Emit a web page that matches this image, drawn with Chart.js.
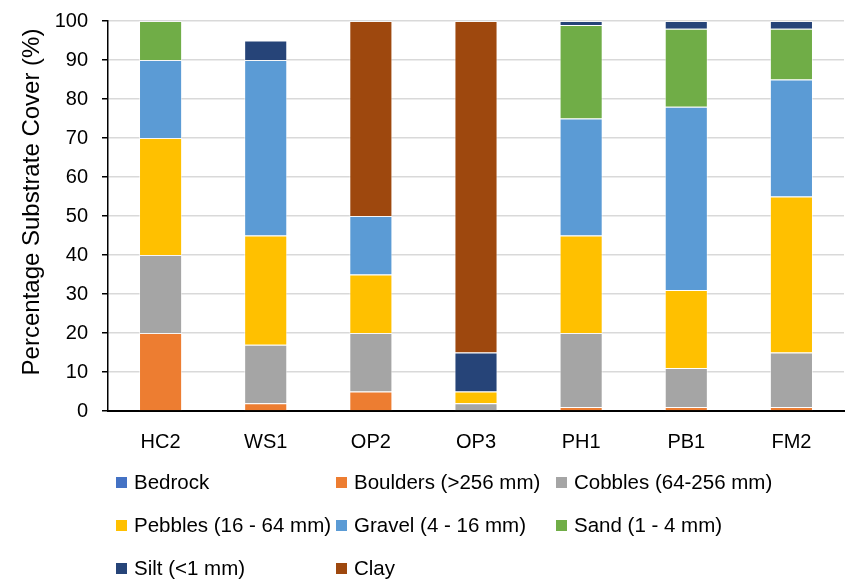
<!DOCTYPE html>
<html>
<head>
<meta charset="utf-8">
<script src="https://cdn.jsdelivr.net/npm/chart.js@4"></script>
<style>
  body { margin: 0; background: #fff; font-family: "Liberation Sans", Arial, sans-serif; overflow: hidden; }
  #wrap { position: relative; width: 855px; height: 582px; overflow: hidden; }
  #chartBox { position: absolute; left: 0; top: -5px; width: 855px; height: 465px; }
  #legend { position: absolute; left: 0; top: 0; width: 855px; height: 582px; pointer-events: none; }
  .item { position: absolute; display: flex; align-items: center; font-size: 20.5px; color: #000; white-space: nowrap; }
  .box { width: 11px; height: 11px; margin-right: 7px; }
</style>
</head>
<body>
<div id="wrap">
  <div id="chartBox"><canvas id="myChart"></canvas></div>
  <div id="legend"></div>
</div>
<script>
// sites
const sites = ["HC2", "WS1", "OP2", "OP3", "PH1", "PB1", "FM2"];

// substrate cover (%) per site
const bedrock  = [0, 0, 0, 0, 0, 0, 0];
const boulders = [20, 2, 5, 0, 1, 1, 1];
const cobbles  = [20, 15, 15, 2, 19, 10, 14];
const pebbles  = [30, 28, 15, 3, 25, 20, 40];
const gravel   = [20, 45, 15, 0, 30, 47, 30];
const sand     = [10, 0, 0, 0, 24, 20, 13];
const silt     = [0, 5, 0, 10, 1, 2, 2];
const clay     = [0, 0, 50, 85, 0, 0, 0];

const yTicks = [0, 10, 20, 30, 40, 50, 60, 70, 80, 90, 100];
const yTitle = "Percentage Substrate Cover (%)";

const series = [
  { label: "Bedrock", data: bedrock, color: "#4472C4" },
  { label: "Boulders (>256 mm)", data: boulders, color: "#ED7D31" },
  { label: "Cobbles (64-256 mm)", data: cobbles, color: "#A5A5A5" },
  { label: "Pebbles (16 - 64 mm)", data: pebbles, color: "#FFC000" },
  { label: "Gravel (4 - 16 mm)", data: gravel, color: "#5B9BD5" },
  { label: "Sand (1 - 4 mm)", data: sand, color: "#70AD47" },
  { label: "Silt (<1 mm)", data: silt, color: "#264478" },
  { label: "Clay", data: clay, color: "#9E480E" },
];

const fontFam = '"Liberation Sans", Arial, sans-serif';

// y axis title drawn by hand so it can sit where the original has it
const yTitlePlugin = {
  id: "yTitlePlugin",
  afterDraw(chart) {
    const c = chart.ctx;
    c.save();
    c.translate(32, 207);
    c.rotate(-Math.PI / 2);
    c.font = "24px " + fontFam;
    c.fillStyle = "#000";
    c.textAlign = "center";
    c.textBaseline = "middle";
    c.fillText(yTitle, 0, 0);
    c.restore();
  },
};

const ctx = document.getElementById("myChart").getContext("2d");
const chart = new Chart(ctx, {
  type: "bar",
  data: {
    labels: sites,
    datasets: series.map((s) => ({
      label: s.label,
      data: s.data,
      backgroundColor: s.color,
      borderColor: "rgba(255,255,255,0.55)",
      borderWidth: 1,
      barPercentage: 0.41,
      categoryPercentage: 1,
    })),
  },
  options: {
    responsive: true,
    maintainAspectRatio: false,
    animation: false,
    layout: { padding: { top: 4, right: 11, left: 0, bottom: 0 } },
    plugins: {
      legend: { display: false },
      tooltip: { enabled: false },
    },
    scales: {
      x: {
        stacked: true,
        grid: { display: false },
        border: { display: true, color: "#000", width: 2 },
        ticks: { color: "#000", font: { family: fontFam, size: 20 }, padding: 11 },
        afterFit: (scale) => { scale.height = 49; },
      },
      y: {
        stacked: true,
        min: 0,
        max: 100,
        afterBuildTicks: (scale) => { scale.ticks = yTicks.map((v) => ({ value: v })); },
        grid: { color: "#d9d9d9", lineWidth: 1.5, tickColor: "#000", tickLength: 6, drawTicks: true },
        border: { display: true, color: "#000", width: 1.5 },
        ticks: { color: "#000", font: { family: fontFam, size: 20 }, padding: 14 },
        afterFit: (scale) => { scale.width = 108; },
      },
    },
  },
  plugins: [yTitlePlugin],
});

// legend laid out in three columns like the original
const legendEl = document.getElementById("legend");
const colX = [116, 336, 556];
const rowY = [482, 525, 568];
series.forEach((s, i) => {
  const item = document.createElement("div");
  item.className = "item";
  item.style.left = colX[i % 3] + "px";
  item.style.top = (rowY[Math.floor(i / 3)] - 12) + "px";
  item.style.height = "24px";
  item.innerHTML = '<span class="box" style="background:' + s.color + '"></span><span>' + s.label + "</span>";
  legendEl.appendChild(item);
});
</script>
</body>
</html>
